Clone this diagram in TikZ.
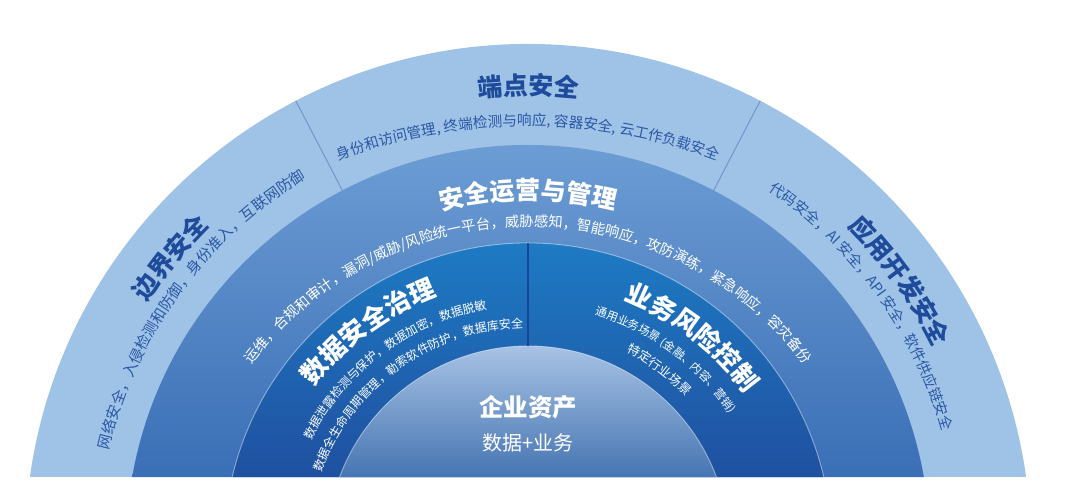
\documentclass[tikz,border=0pt]{standalone}
\usepackage{fontspec}
\setmainfont{Noto Sans CJK SC}
\usetikzlibrary{decorations.text}
\definecolor{outerblue}{HTML}{9FC3E6}
\definecolor{divblue}{HTML}{6F97C9}
\definecolor{ringtwotop}{HTML}{72A1D7}
\definecolor{ringtwobot}{HTML}{3A6FB6}
\definecolor{ringthreetop}{HTML}{1E80C8}
\definecolor{ringthreebot}{HTML}{1F50A0}
\definecolor{coretop}{HTML}{BAD2EE}
\definecolor{corebot}{HTML}{4675B2}
\definecolor{titleblue}{HTML}{1E4B9B}
\definecolor{subblue}{HTML}{2B57A5}
\definecolor{midline}{HTML}{1A4596}
% formats
\newcommand\fTitle{\fontsize{25}{25}\selectfont\bfseries\color{titleblue}}
\newcommand\fSub{\fontsize{15}{15}\selectfont\color{subblue}}
\newcommand\fSubR{\fontsize{14.5}{14.5}\selectfont\color{subblue}}
\newcommand\fSubTop{\fontsize{14.6}{14.6}\selectfont\color{subblue}}
\newcommand\fWTitle{\fontsize{25}{25}\selectfont\bfseries\color{white}}
\newcommand\fWSub{\fontsize{14.3}{14.3}\selectfont\color{white}}
\newcommand\fRTitle{\fontsize{26}{26}\selectfont\bfseries\color{white}}
\newcommand\fRSub{\fontsize{12}{12}\selectfont\color{white}}
\newcommand\fRSubA{\fontsize{11.5}{11.5}\selectfont\color{white}}
\newcommand\fRSubB{\fontsize{12.5}{12.5}\selectfont\color{white}}
% segment of circle above the bottom line (70 units above the centre)
\newcommand\segpath[1]{([shift={({180-asin(70/#1)}:#1)}]C) arc[start angle={180-asin(70/#1)}, end angle={asin(70/#1)}, radius=#1] -- cycle}
% text along an arc: centre, radius, middle angle, half span, text
\newcommand\arctxt[5]{\path[decorate,decoration={text along path,text align=center,text={#5}}] ([shift={({#3+#4}:#2)}]#1) arc[start angle={#3+#4}, end angle={#3-#4}, radius=#2];}
\begin{document}
\begin{tikzpicture}[x=1pt,y=1pt,
  divider/.style={draw=divblue,line width=1pt},
  middivider/.style={draw=midline,line width=1.4pt},
  edgeglow/.style={draw=white,draw opacity=0.45,line width=0.9pt},
  corelabel/.style={text=white,inner sep=0pt}]
\useasboundingbox (0,0) rectangle (1080,492);
\coordinate (C) at (528,-55);
\coordinate (Ctop) at (528,-164);
\coordinate (Cmid) at (528,-80);
% rings
\fill[outerblue] \segpath{503};
\shade[top color=ringtwotop,bottom color=ringtwobot] \segpath{402};
\shade[top color=ringthreetop,bottom color=ringthreebot] \segpath{304};
\draw[edgeglow] ([shift={({180-asin(70/304)}:304)}]C) arc[start angle={180-asin(70/304)}, end angle={asin(70/304)}, radius=304];
\shade[top color=coretop,bottom color=corebot] \segpath{201};
\draw[edgeglow] ([shift={({180-asin(70/201)}:201)}]C) arc[start angle={180-asin(70/201)}, end angle={asin(70/201)}, radius=201];
% dividers
\coordinate (dLa) at ([shift={(117.5:402)}]C);
\coordinate (dLb) at ([shift={(117.5:503)}]C);
\coordinate (dRa) at ([shift={(62.5:402)}]C);
\coordinate (dRb) at ([shift={(62.5:503)}]C);
\coordinate (dMa) at ([shift={(90:201)}]C);
\coordinate (dMb) at ([shift={(90:304)}]C);
\draw[divider] (dLa) -- (dLb);
\draw[divider] (dRa) -- (dRb);
\draw[middivider] (dMa) -- (dMb);
% outer ring texts
\arctxt{C}{452.5}{90}{30}{|\fTitle|端点安全}
\arctxt{Ctop}{530.4}{90}{40}{|\fSubTop|身份和访问管理, 终端检测与响应, 容器安全, 云工作负载安全}
\arctxt{C}{452.5}{141}{30}{|\fTitle|边界安全}
\arctxt{C}{430}{144}{40}{|\fSub|网络安全，入侵检测和防御，身份准入，互联网防御}
\arctxt{C}{452.5}{35.6}{30}{|\fTitle|应用开发安全}
\arctxt{C}{430}{35.8}{40}{|\fSubR|代码安全，AI 安全，API 安全，软件供应链安全}
% ring 2 texts
\arctxt{C}{347.5}{90}{30}{|\fWTitle|安全运营与管理}
\arctxt{Cmid}{345.5}{90}{80}{|\fWSub|运维，合规和审计，漏洞/威胁/风险统一平台，威胁感知，智能响应，攻防演练，紧急响应，容灾备份}
% ring 3 texts
\arctxt{C}{267}{126.5}{40}{|\fRTitle|数据安全治理}
\arctxt{C}{241.4}{126.8}{45}{|\fRSub|数据泄露检测与保护，数据加密，数据脱敏}
\arctxt{C}{219.4}{125.7}{50}{|\fRSub|数据全生命周期管理，勒索软件防护，数据库安全}
\arctxt{C}{265}{52}{40}{|\fRTitle|业务风险控制}
\arctxt{C}{241.6}{53.7}{40}{|\fRSubA|通用业务场景 (金融、内容、营销)}
\arctxt{C}{218.4}{53.5}{30}{|\fRSubB|特定行业场景}
% core
\node[corelabel,font={\fontsize{24.5}{24.5}\selectfont\bfseries}] (core) at (528,85) {企业资产};
\node[corelabel,font={\fontsize{20}{20}\selectfont}] (coresub) at (528,49) {数据+业务};
\end{tikzpicture}
\end{document}
